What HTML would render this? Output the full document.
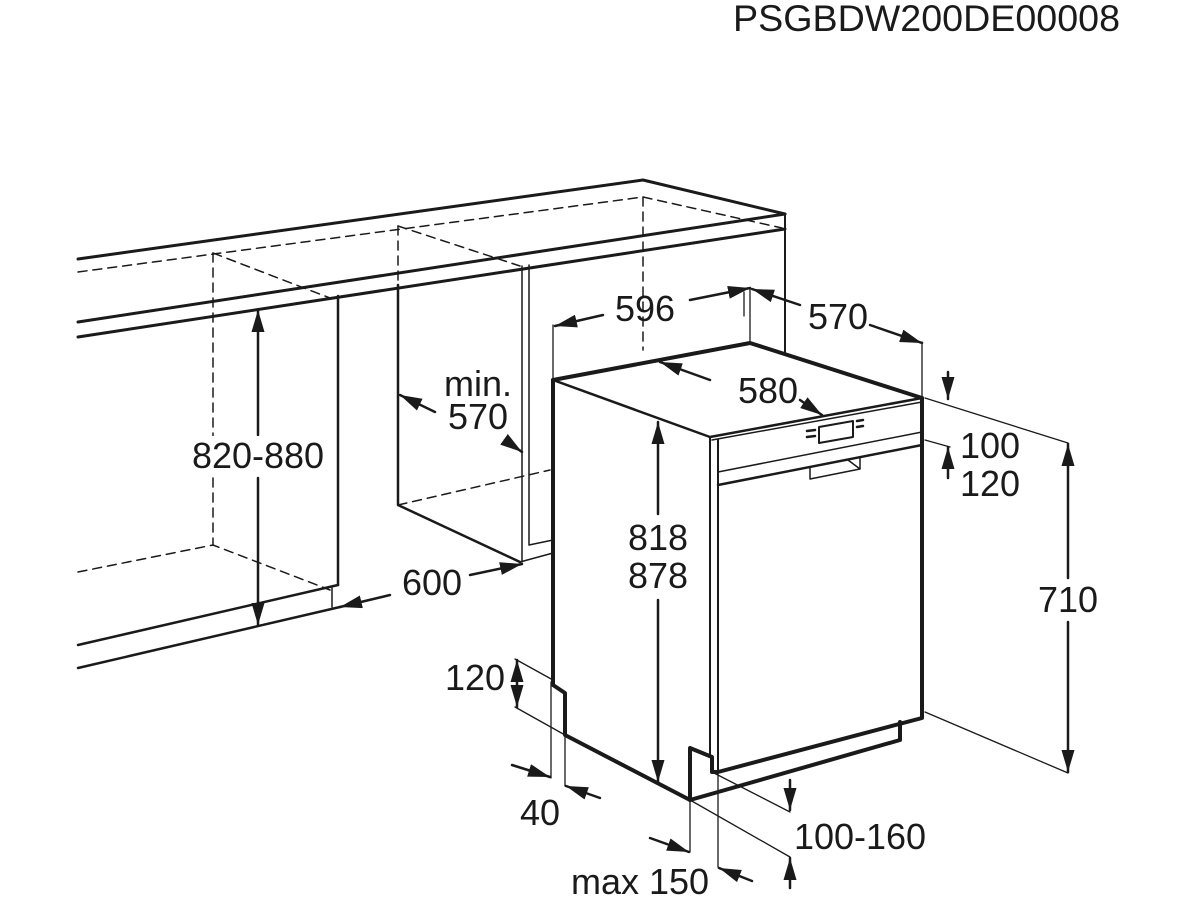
<!DOCTYPE html>
<html><head><meta charset="utf-8"><style>
html,body{margin:0;padding:0;background:#fff;}
svg{display:block;}
text{font-family:"Liberation Sans",Arial,sans-serif;fill:#1a1a1a;}
</style></head><body>
<svg width="1200" height="900" viewBox="0 0 1200 900" xmlns="http://www.w3.org/2000/svg">
<defs>
<marker id="a" viewBox="0 0 22 13" refX="22" refY="6.5" markerWidth="22" markerHeight="13" markerUnits="userSpaceOnUse" orient="auto">
<path d="M0,0 L22,6.5 L0,13 Z" fill="#1a1a1a"/></marker>
</defs>
<text x="733" y="31" font-size="37" textLength="387" lengthAdjust="spacingAndGlyphs">PSGBDW200DE00008</text>
<g stroke="#1a1a1a" fill="none" stroke-linecap="round" stroke-linejoin="round">
<path d="M78,259 L643,180 L785,214" stroke-width="3"/>
<path d="M78,322 L785,214" stroke-width="3"/>
<path d="M78,337 L785,229" stroke-width="3"/>
<path d="M785,214 L785,352" stroke-width="2"/>
<g stroke-dasharray="9,6" stroke-width="1.5">
<path d="M78,272 L643,197 L782,228"/>
<path d="M643,197 L643,350"/>
<path d="M213,253 L213,545"/>
<path d="M213,253 L330,298"/>
<path d="M78,572 L213,545 L330,590"/>
<path d="M398,226 L398,285"/>
<path d="M398,226 L520,266"/>
<path d="M398,505 L550,470"/>
</g>
<path d="M338,296 L338,585" stroke-width="2.5"/>
<path d="M78,645 L338,585" stroke-width="2.5"/>
<path d="M78,668 L340,607" stroke-width="2.5"/>
<path d="M332,588 L332,607" stroke-width="1.5"/>
<path d="M398,285 L398,505 L520,562" stroke-width="2.5"/>
<path d="M522,266 L522,562" stroke-width="1.5"/>
<path d="M529,265 L529,545 L553,540" stroke-width="1.5"/>
<path d="M520,562 L553,553" stroke-width="1.5"/>
<path d="M553,380 L750,343 L922,398" stroke-width="4"/>
<path d="M553,380 L710,437 L922,398" stroke-width="2.5"/>
<path d="M712,440 L922,402" stroke-width="1.5"/>
<path d="M553,380 L553,685 L565,693 L565,735 L690,800 L900,740 L900,722" stroke-width="4"/>
<path d="M922,398 L922,718 L718,772 L712,772 L712,757 L690,748 L690,800" stroke-width="4"/>
<path d="M710,437 L710,757" stroke-width="2"/>
<path d="M718,440 L718,772" stroke-width="2"/>
<path d="M718,472 L922,432" stroke-width="1.5"/>
<path d="M718,485 L922,445" stroke-width="2.5"/>
<path d="M819,427 L853,421 L853,437 L819,443 Z" stroke-width="2"/>
<path d="M807,431 L815,430 M807,437 L815,436 M857,421 L863,420 M857,427 L863,426" stroke-width="2.5"/>
<path d="M810,478 L810,467 M810,479 L860,469 L860,458 M848,460 L860,469" stroke-width="1.5"/>
<g stroke-width="1.3">
<path d="M553,325 L553,380"/>
<path d="M750,288 L750,343"/>
<path d="M922,342 L922,398"/>
<path d="M925,398 L1068,443"/>
<path d="M925,440 L950,447"/>
<path d="M925,712 L1068,773"/>
<path d="M515,659 L553,680"/>
<path d="M515,707 L565,735"/>
<path d="M551,682 L551,778"/>
<path d="M565,735 L565,786"/>
<path d="M712,772 L790,812"/>
<path d="M690,800 L790,857"/>
<path d="M690,800 L690,852"/>
<path d="M718,772 L718,867"/>
<path d="M744,292 L744,316" />
</g>
<g stroke-width="2.5">
<path d="M258,435 L258,310" marker-end="url(#a)"/>
<path d="M258,478 L258,625" marker-end="url(#a)"/>
<path d="M435,412 L400,395" marker-end="url(#a)"/>
<path d="M505,440 L522,452" marker-end="url(#a)"/>
<path d="M390,595 L340,607" marker-end="url(#a)"/>
<path d="M470,575 L522,564" marker-end="url(#a)"/>
<path d="M603,315 L555,326" marker-end="url(#a)"/>
<path d="M690,300 L750,288" marker-end="url(#a)"/>
<path d="M800,305 L752,289" marker-end="url(#a)"/>
<path d="M870,325 L922,343" marker-end="url(#a)"/>
<path d="M710,380 L660,362" marker-end="url(#a)"/>
<path d="M800,400 L822,415" marker-end="url(#a)"/>
<path d="M948,372 L948,399" marker-end="url(#a)"/>
<path d="M948,478 L948,447" marker-end="url(#a)"/>
<path d="M1068,578 L1068,444" marker-end="url(#a)"/>
<path d="M1068,622 L1068,772" marker-end="url(#a)"/>
<path d="M658,514 L658,422" marker-end="url(#a)"/>
<path d="M658,600 L658,782" marker-end="url(#a)"/>
<path d="M517,685 L517,660" marker-end="url(#a)"/>
<path d="M517,685 L517,707" marker-end="url(#a)"/>
<path d="M512,765 L550,777" marker-end="url(#a)"/>
<path d="M600,798 L566,786" marker-end="url(#a)"/>
<path d="M790,780 L790,810" marker-end="url(#a)"/>
<path d="M790,888 L790,858" marker-end="url(#a)"/>
<path d="M650,838 L689,852" marker-end="url(#a)"/>
<path d="M752,881 L719,868" marker-end="url(#a)"/>
</g>
</g>
<g font-size="36" text-anchor="middle">
<rect x="190" y="436" width="136" height="38" fill="#fff"/>
<text x="258" y="468">820-880</text>
<text x="478" y="396">min.</text>
<text x="478" y="429">570</text>
<text x="432" y="595">600</text>
<text x="645" y="321">596</text>
<text x="838" y="329">570</text>
<text x="768" y="403">580</text>
<text x="658" y="550">818</text>
<text x="658" y="588">878</text>
<text x="990" y="458">100</text>
<text x="990" y="496">120</text>
<text x="1068" y="612">710</text>
<text x="475" y="690">120</text>
<text x="540" y="825">40</text>
<text x="860" y="849">100-160</text>
<text x="640" y="894">max 150</text>
</g>
</svg>
</body></html>
